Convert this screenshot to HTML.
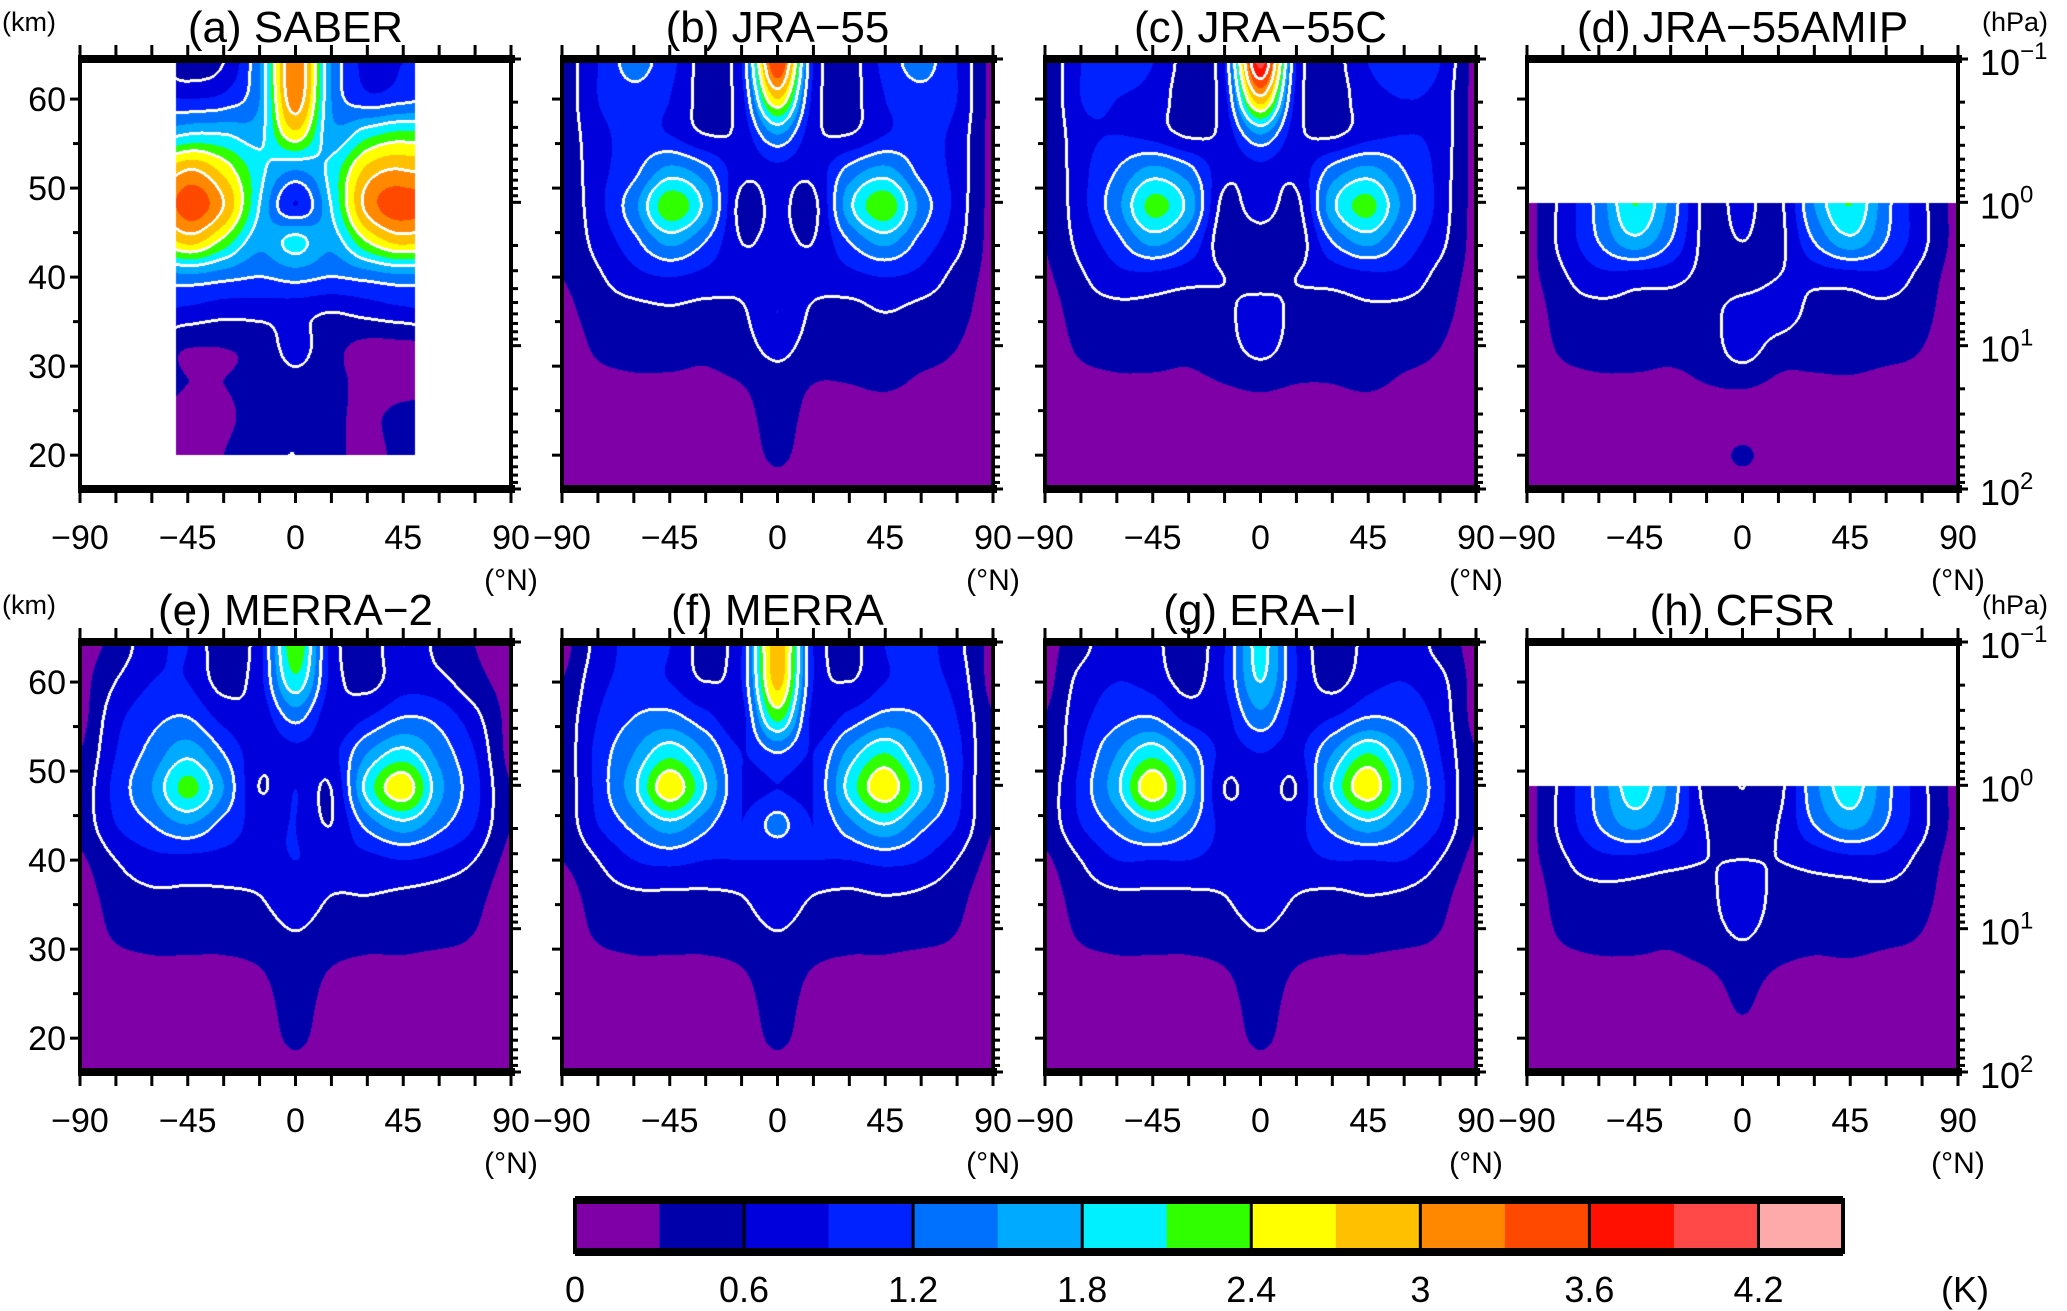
<!DOCTYPE html>
<html><head><meta charset="utf-8">
<style>
html,body{margin:0;padding:0;background:#fff;}
#wrap{position:relative;width:2067px;height:1311px;overflow:hidden;font-family:"Liberation Sans",sans-serif;}
canvas{position:absolute;}
svg{position:absolute;left:0;top:0;}
</style></head>
<body>
<div id="wrap">
<svg id="ov" width="2067" height="1311"></svg>
</div>
<script>
// ---- data ----
const lats = [-90,-75,-60,-45,-30,-15,0,15,30,45,60,75,90];
const kms = [64,60,56,52,48,44,40,36,32,28,24,20,16];
const levels = [0,0.3,0.6,0.9,1.2,1.5,1.8,2.1,2.4,2.7,3.0,3.3,3.6,3.9,4.2];
const cbLabels = ['0','0.6','1.2','1.8','2.4','3','3.6','4.2'];
const titles = ['(a)  SABER','(b)  JRA\u221255','(c)  JRA\u221255C','(d)  JRA\u221255AMIP','(e)  MERRA\u22122','(f)  MERRA','(g)  ERA\u2212I','(h)  CFSR'];
const xTickLabels = ['\u221290','\u221245','0','45','90'];
const xTickVals = [-90,-45,0,45,90];
const kmTickVals = [20,30,40,50,60];
const pTickExp = ['\u22121','0','1','2'];

const fieldA = [
[0,0,0.5,0.4,0.6,1.5,3.3,1.5,0.8,0.9,0.9,0,0],
[0,0,0.9,0.9,1.0,1.5,3.2,1.5,1.0,1.1,1.1,0,0],
[0,0,1.4,1.8,1.8,1.7,2.6,1.6,2.0,2.2,1.9,0,0],
[0,0,2.2,3.0,2.6,1.9,1.5,1.9,2.8,3.0,2.5,0,0],
[0,0,2.5,3.45,3.0,1.8,0.9,1.8,3.1,3.45,2.9,0,0],
[0,0,2.0,2.8,2.3,1.6,1.9,1.6,2.4,2.8,2.3,0,0],
[0,0,1.2,1.4,1.3,1.2,1.3,1.2,1.3,1.4,1.2,0,0],
[0,0,0.8,0.8,0.7,0.7,0.7,0.6,0.7,0.8,0.8,0,0],
[0,0,0.4,0.3,0.3,0.4,0.7,0.4,0.2,0.2,0.2,0,0],
[0,0,0.4,0.3,0.3,0.4,0.5,0.4,0.2,0.2,0.2,0,0],
[0,0,0.2,0.2,0.25,0.4,0.4,0.35,0.25,0.4,0.4,0,0],
[0,0,0.2,0.2,0.3,0.5,0.6,0.4,0.2,0.4,0.4,0,0],
[0,0,0.2,0.2,0.3,0.5,0.6,0.4,0.2,0.4,0.4,0,0]];
const fieldB = [
[0.4,0.9,1.3,1.0,0.5,0.9,3.6,0.9,0.5,1.0,1.3,0.9,0.2],
[0.4,0.9,1.1,0.9,0.5,0.8,2.7,0.8,0.5,0.9,1.1,0.9,0.2],
[0.4,0.8,1.0,0.9,0.6,0.7,1.5,0.7,0.6,0.9,1.0,0.8,0.2],
[0.35,0.8,1.1,1.6,1.3,0.7,0.8,0.7,1.3,1.6,1.1,0.8,0.2],
[0.35,0.8,1.4,2.3,1.7,0.5,0.7,0.5,1.7,2.3,1.4,0.8,0.2],
[0.35,0.7,1.1,1.6,1.2,0.6,0.7,0.6,1.2,1.6,1.1,0.7,0.2],
[0.3,0.55,0.8,0.9,0.8,0.7,0.75,0.7,0.8,0.9,0.8,0.5,0.2],
[0.2,0.45,0.5,0.55,0.5,0.55,0.9,0.55,0.5,0.6,0.5,0.4,0.15],
[0.1,0.35,0.4,0.4,0.35,0.45,0.7,0.45,0.4,0.45,0.4,0.3,0.1],
[0.1,0.2,0.25,0.25,0.25,0.3,0.45,0.3,0.3,0.35,0.25,0.2,0.1],
[0.1,0.1,0.1,0.1,0.1,0.2,0.4,0.2,0.1,0.1,0.1,0.1,0.1],
[0.1,0.1,0.1,0.1,0.1,0.15,0.35,0.15,0.1,0.1,0.1,0.1,0.1],
[0.1,0.1,0.1,0.1,0.1,0.1,0.2,0.1,0.1,0.1,0.1,0.1,0.1]];
const fieldC = [
[0.3,0.9,1.0,0.9,0.5,0.9,4.0,0.9,0.5,0.9,1.0,0.9,0.2],
[0.3,0.9,0.9,0.8,0.45,0.8,2.9,0.8,0.45,0.8,0.9,0.8,0.2],
[0.3,0.8,0.9,0.8,0.55,0.7,1.5,0.7,0.55,0.8,0.9,0.8,0.2],
[0.3,0.8,1.2,1.6,1.3,0.7,0.8,0.7,1.3,1.6,1.2,0.8,0.2],
[0.3,0.8,1.4,2.2,1.7,0.5,0.8,0.5,1.7,2.2,1.4,0.8,0.2],
[0.3,0.7,1.1,1.6,1.2,0.4,0.4,0.4,1.2,1.6,1.1,0.7,0.2],
[0.25,0.55,0.8,0.8,0.7,0.6,0.4,0.6,0.7,0.8,0.8,0.5,0.2],
[0.15,0.45,0.5,0.5,0.45,0.5,0.8,0.5,0.5,0.55,0.5,0.4,0.15],
[0.1,0.35,0.4,0.4,0.35,0.45,0.7,0.45,0.4,0.45,0.4,0.3,0.1],
[0.1,0.2,0.25,0.25,0.25,0.3,0.35,0.3,0.3,0.35,0.25,0.2,0.1],
[0.1,0.1,0.1,0.1,0.1,0.15,0.2,0.15,0.1,0.1,0.1,0.1,0.1],
[0.1,0.1,0.1,0.1,0.1,0.1,0.1,0.1,0.1,0.1,0.1,0.1,0.1],
[0.1,0.1,0.1,0.1,0.1,0.1,0.1,0.1,0.1,0.1,0.1,0.1,0.1]];
const fieldD = [
[0.2,0.7,1.3,2.1,1.4,0.5,0.7,0.5,1.5,2.1,1.3,0.7,0.2],
[0.2,0.7,1.3,2.1,1.4,0.5,0.7,0.5,1.5,2.1,1.3,0.7,0.2],
[0.2,0.7,1.3,2.1,1.4,0.5,0.7,0.5,1.5,2.1,1.3,0.7,0.2],
[0.2,0.7,1.3,2.1,1.4,0.5,0.7,0.5,1.5,2.1,1.3,0.7,0.2],
[0.2,0.7,1.3,2.1,1.4,0.5,0.7,0.5,1.5,2.1,1.3,0.7,0.2],
[0.2,0.7,1.2,1.7,1.2,0.5,0.6,0.5,1.2,1.7,1.2,0.7,0.2],
[0.2,0.55,0.8,0.75,0.7,0.5,0.4,0.6,0.7,0.75,0.8,0.5,0.15],
[0.1,0.45,0.5,0.5,0.45,0.45,0.8,0.8,0.5,0.5,0.5,0.4,0.1],
[0.1,0.35,0.4,0.4,0.35,0.4,0.75,0.45,0.4,0.45,0.4,0.3,0.1],
[0.1,0.2,0.25,0.25,0.25,0.3,0.35,0.25,0.25,0.25,0.2,0.2,0.1],
[0.1,0.1,0.1,0.1,0.1,0.1,0.1,0.1,0.1,0.1,0.1,0.1,0.1],
[0.1,0.1,0.1,0.1,0.1,0.1,0.35,0.1,0.1,0.1,0.1,0.1,0.1],
[0.1,0.1,0.1,0.1,0.1,0.1,0.1,0.1,0.1,0.1,0.1,0.1,0.1]];
const fieldE = [
[0.2,0.4,0.8,0.9,0.4,0.8,2.3,0.8,0.4,0.9,0.5,0.3,0.2],
[0.2,0.6,0.9,0.9,0.5,0.8,2.0,0.8,0.5,0.8,0.7,0.4,0.2],
[0.2,0.8,1.1,1.2,0.8,0.7,1.3,0.7,0.9,1.2,1.1,0.7,0.2],
[0.3,0.9,1.3,1.7,1.2,0.7,0.8,0.8,1.5,1.9,1.4,0.9,0.2],
[0.4,1.0,1.5,2.2,1.5,0.6,0.9,0.6,1.9,2.6,1.6,1.0,0.3],
[0.4,0.9,1.2,1.5,1.1,0.8,0.9,0.6,1.3,1.7,1.3,0.9,0.3],
[0.25,0.6,0.8,0.8,0.8,0.8,0.9,0.8,0.8,0.9,0.8,0.6,0.2],
[0.15,0.45,0.55,0.55,0.55,0.6,0.8,0.6,0.6,0.55,0.5,0.4,0.1],
[0.1,0.35,0.4,0.4,0.4,0.45,0.6,0.45,0.4,0.4,0.4,0.3,0.1],
[0.1,0.2,0.25,0.25,0.25,0.3,0.45,0.3,0.25,0.25,0.2,0.2,0.1],
[0.1,0.1,0.1,0.1,0.1,0.2,0.4,0.2,0.1,0.1,0.1,0.1,0.1],
[0.1,0.1,0.1,0.1,0.1,0.15,0.35,0.15,0.1,0.1,0.1,0.1,0.1],
[0.1,0.1,0.1,0.1,0.1,0.1,0.2,0.1,0.1,0.1,0.1,0.1,0.1]];
const fieldF = [
[0.2,0.7,1.0,0.9,0.5,0.9,2.9,0.9,0.5,0.9,1.0,0.7,0.2],
[0.3,0.8,1.0,0.9,0.6,0.9,2.8,0.9,0.6,0.9,1.0,0.8,0.2],
[0.4,0.9,1.2,1.3,1.0,0.8,2.2,0.8,1.0,1.3,1.2,0.9,0.3],
[0.4,1.0,1.5,2.0,1.5,0.9,1.2,0.9,1.6,2.1,1.5,1.0,0.3],
[0.4,1.0,1.7,2.6,1.8,0.9,0.9,0.9,1.9,2.6,1.8,1.0,0.3],
[0.4,0.9,1.3,1.7,1.3,0.9,1.3,0.9,1.4,1.8,1.3,0.9,0.3],
[0.3,0.6,0.9,1.0,0.9,0.9,0.9,0.9,0.9,1.0,0.9,0.6,0.2],
[0.15,0.45,0.55,0.55,0.55,0.6,0.8,0.6,0.55,0.6,0.55,0.4,0.1],
[0.1,0.35,0.4,0.4,0.4,0.45,0.6,0.45,0.4,0.4,0.4,0.3,0.1],
[0.1,0.2,0.25,0.25,0.25,0.3,0.45,0.3,0.25,0.25,0.2,0.2,0.1],
[0.1,0.1,0.1,0.1,0.1,0.2,0.4,0.2,0.1,0.1,0.1,0.1,0.1],
[0.1,0.1,0.1,0.1,0.1,0.15,0.35,0.15,0.1,0.1,0.1,0.1,0.1],
[0.1,0.1,0.1,0.1,0.1,0.1,0.2,0.1,0.1,0.1,0.1,0.1,0.1]];
const fieldG = [
[0.2,0.5,0.8,0.7,0.4,0.9,1.9,0.9,0.4,0.7,0.8,0.5,0.2],
[0.2,0.7,0.9,0.8,0.5,0.9,1.8,0.9,0.5,0.8,0.9,0.7,0.2],
[0.3,0.8,1.1,1.2,0.8,0.8,1.4,0.8,0.9,1.2,1.1,0.8,0.2],
[0.3,0.9,1.5,2.0,1.4,0.8,0.9,0.8,1.5,2.1,1.5,0.9,0.3],
[0.4,1.0,1.7,2.6,1.7,0.6,0.8,0.6,1.8,2.6,1.7,1.0,0.3],
[0.4,0.9,1.3,1.7,1.3,0.8,0.8,0.8,1.3,1.7,1.3,0.9,0.3],
[0.25,0.6,0.9,0.9,0.9,0.8,0.9,0.8,0.9,0.9,0.9,0.6,0.2],
[0.15,0.45,0.55,0.55,0.55,0.6,0.8,0.6,0.55,0.6,0.55,0.4,0.1],
[0.1,0.35,0.4,0.4,0.4,0.45,0.6,0.45,0.4,0.4,0.4,0.3,0.1],
[0.1,0.2,0.25,0.25,0.25,0.3,0.45,0.3,0.25,0.25,0.2,0.2,0.1],
[0.1,0.1,0.1,0.1,0.1,0.2,0.4,0.2,0.1,0.1,0.1,0.1,0.1],
[0.1,0.1,0.1,0.1,0.1,0.15,0.35,0.15,0.1,0.1,0.1,0.1,0.1],
[0.1,0.1,0.1,0.1,0.1,0.1,0.2,0.1,0.1,0.1,0.1,0.1,0.1]];
const fieldH = [
[0.2,0.7,1.3,1.95,1.4,0.5,0.6,0.5,1.4,1.95,1.3,0.7,0.2],
[0.2,0.7,1.3,1.95,1.4,0.5,0.6,0.5,1.4,1.95,1.3,0.7,0.2],
[0.2,0.7,1.3,1.95,1.4,0.5,0.6,0.5,1.4,1.95,1.3,0.7,0.2],
[0.2,0.7,1.3,1.95,1.4,0.5,0.6,0.5,1.4,1.95,1.3,0.7,0.2],
[0.2,0.7,1.3,1.95,1.4,0.5,0.6,0.5,1.4,1.95,1.3,0.7,0.2],
[0.2,0.7,1.2,1.6,1.2,0.6,0.5,0.6,1.2,1.6,1.2,0.7,0.2],
[0.2,0.55,0.8,0.8,0.7,0.6,0.6,0.6,0.7,0.8,0.8,0.5,0.15],
[0.1,0.45,0.5,0.5,0.45,0.5,0.8,0.5,0.5,0.5,0.5,0.4,0.1],
[0.1,0.35,0.4,0.4,0.35,0.45,0.65,0.45,0.4,0.45,0.4,0.3,0.1],
[0.1,0.2,0.25,0.25,0.25,0.3,0.45,0.3,0.25,0.25,0.2,0.2,0.1],
[0.1,0.1,0.1,0.1,0.1,0.1,0.35,0.1,0.1,0.1,0.1,0.1,0.1],
[0.1,0.1,0.1,0.1,0.1,0.1,0.2,0.1,0.1,0.1,0.1,0.1,0.1],
[0.1,0.1,0.1,0.1,0.1,0.1,0.1,0.1,0.1,0.1,0.1,0.1,0.1]];
const fields = [fieldA,fieldB,fieldC,fieldD,fieldE,fieldF,fieldG,fieldH];
// masks: [latMin, latMax, kmMin, kmMax]
const maskA = [-50,50,20,64.5];
const maskFull = [-90,90,16.2,64.5];
const maskLow = [-90,90,16.2,48.3];
const masks = [maskA,maskFull,maskFull,maskLow,maskFull,maskFull,maskFull,maskLow];
const colors = ['#7f00a6','#0000aa','#0000dd','#0022ff','#0070ff','#00aaff','#00f0ff','#30ff00','#ffff00','#ffc000','#ff8800','#ff4800','#ff1000','#ff4848','#ffaaaa'];

// ---- layout ----
const PW=431, PH=430, KM_TOP=64.5, KM_BOT=16.2;
const panelLeft=[80,562,1045,1527], panelTop=[59,642];
const NS='http://www.w3.org/2000/svg';
const ov=document.getElementById('ov');
const wrap=document.getElementById('wrap');
function xOf(px,lat){return px+(lat+90)/180*PW;}
function yOf(py,km){return py+(KM_TOP-km)/(KM_TOP-KM_BOT)*PH;}
function yOfP(py,p){return py+(Math.log10(p)+1)/3*PH;}
function hexRGB(h){return [parseInt(h.substr(1,2),16),parseInt(h.substr(3,2),16),parseInt(h.substr(5,2),16)];}
const rgb=colors.map(hexRGB);
function cr(p0,p1,p2,p3,t){return p1+0.5*t*(p2-p0+t*(2*p0-5*p1+4*p2-p3+t*(3*(p1-p2)+p3-p0)));}
function sample(f,gx,gy){
  const ix=Math.floor(gx), iy=Math.floor(gy), tx=gx-ix, ty=gy-iy;
  const R=f.length-1, C=f[0].length-1;
  const g=(r,c)=>f[Math.max(0,Math.min(R,r))][Math.max(0,Math.min(C,c))];
  const rows=[];
  for(let j=-1;j<=2;j++){rows.push(cr(g(iy+j,ix-1),g(iy+j,ix),g(iy+j,ix+1),g(iy+j,ix+2),tx));}
  return Math.max(0,cr(rows[0],rows[1],rows[2],rows[3],ty));
}
function mk(tag,attrs,parent){const e=document.createElementNS(NS,tag);for(const k in attrs)e.setAttribute(k,attrs[k]);(parent||ov).appendChild(e);return e;}
function txt(x,y,s,size,anchor,parent){const t=mk('text',{x:x,y:y,'font-size':size,'text-anchor':anchor||'middle','font-family':'Liberation Sans, sans-serif',fill:'#000'},parent);t.textContent=s;return t;}

for(let p=0;p<8;p++){
  const px=panelLeft[p%4], py=panelTop[Math.floor(p/4)];
  const cv=document.createElement('canvas');
  cv.width=PW; cv.height=PH; cv.style.left=px+'px'; cv.style.top=py+'px';
  
  
  wrap.insertBefore(cv,ov);
  const ctx=cv.getContext('2d');
  const img=ctx.createImageData(PW,PH);
  const f=fields[p], m=masks[p];
  const vals=new Float32Array(PW*PH), inside=new Uint8Array(PW*PH);
  for(let y=0;y<PH;y++){
    const km=KM_TOP-(y+0.5)/PH*(KM_TOP-KM_BOT);
    const gy=(kms[0]-km)/(kms[0]-kms[1]);
    for(let x=0;x<PW;x++){
      const lat=-90+(x+0.5)/PW*180;
      const i=y*PW+x;
      if(lat<m[0]||lat>m[1]||km<m[2]||km>m[3]){inside[i]=0;continue;}
      inside[i]=1;
      vals[i]=sample(f,(lat-lats[0])/(lats[1]-lats[0]),Math.max(0,Math.min(kms.length-1,gy)));
    }
  }
  for(let y=0;y<PH;y++)for(let x=0;x<PW;x++){
    const i=y*PW+x;let c=[255,255,255];
    if(inside[i]){
      let k=0;for(let l=0;l<levels.length;l++){if(vals[i]>=levels[l])k=l;}
      c=rgb[k];
    }
    img.data[i*4]=c[0];img.data[i*4+1]=c[1];img.data[i*4+2]=c[2];img.data[i*4+3]=255;
  }
  const lv=i=>Math.floor(vals[i]/0.6);
  const marks=[];
  for(let y=1;y<PH-2;y++)for(let x=1;x<PW-2;x++){
    const i=y*PW+x;if(!inside[i])continue;
    if(inside[i+1]&&lv(i)!==lv(i+1)){marks.push(i-1,i,i+1);}
    if(inside[i+PW]&&lv(i)!==lv(i+PW)){marks.push(i-PW,i,i+PW);}
  }
  marks.forEach(i=>{if(!inside[i])return;img.data[i*4]=255;img.data[i*4+1]=255;img.data[i*4+2]=255;});
  ctx.putImageData(img,0,0);

  // axes overlay
  const g=mk('g',{});
  
  
  const fr=mk('rect',{x:px,y:py,width:PW,height:PH,fill:'none',stroke:'#000','stroke-width':4},g);
  
  
  mk('line',{x1:px-2,x2:px+PW+4,y1:py,y2:py,stroke:'#000','stroke-width':8},g);
  mk('line',{x1:px-2,x2:px+PW+4,y1:py+PH,y2:py+PH,stroke:'#000','stroke-width':8},g);
  for(let lat=-90;lat<=90;lat+=15){
    const x=xOf(px,lat);
    mk('line',{x1:x,x2:x,y1:py+PH,y2:py+PH+14,stroke:'#000','stroke-width':3},g);
    mk('line',{x1:x,x2:x,y1:py,y2:py-14,stroke:'#000','stroke-width':3},g);
  }
  for(let km=20;km<=60;km+=5){
    const y=yOf(py,km);
    mk('line',{x1:px,x2:px-(km%10===0?10:7),y1:y,y2:y,stroke:'#000','stroke-width':3},g);
  }
  for(let e=-1;e<=2;e++)for(let k=1;k<=9;k++){
    const pv=k*Math.pow(10,e); if(pv>100)continue;
    const y=yOfP(py,pv);
    mk('line',{x1:px+PW,x2:px+PW+(k===1?10:7),y1:y,y2:y,stroke:'#000','stroke-width':3},g);
  }
  const tt=txt(px+PW/2,py-17,titles[p],44,'middle',g);
  
  
  xTickVals.forEach((v,j)=>{
    const t=txt(xOf(px,v),py+PH+60,xTickLabels[j],34,'middle',g);
    
    
  });
  const xu=txt(px+PW,py+PH+101,'(\u00B0N)',30,'middle',g);
  
  
  if(p%4===0){
    kmTickVals.forEach(v=>{
      const t=txt(px-14,yOf(py,v)+12,String(v),34,'end',g);
      
      
    });
    const ku=txt(2,py-28,'(km)',27,'start',g);
    
    
  }
  if(p%4===3){
    pTickExp.forEach((e,j)=>{
      const y=yOfP(py,Math.pow(10,j-1));
      const t=mk('text',{x:px+PW+22,y:y+16,'font-size':36,'font-family':'Liberation Sans, sans-serif'},g);
      
      
      t.textContent='10';
      const s=mk('tspan',{dy:-16,'font-size':24},t);
      s.textContent=e;
    });
    const pu=txt(2048,py-28,'(hPa)',27,'end',g);
    
    
  }
}
// colorbar
const cbL=575, cbT=1200, cbW=1268, cbH=52, cw=cbW/colors.length;
const cb=mk('g',{});


colors.forEach((c,i)=>{
  const r=mk('rect',{x:cbL+i*cw,y:cbT,width:cw+0.5,height:cbH,fill:c},cb);
  
  
});
for(let i=2;i<colors.length;i+=2){mk('line',{x1:cbL+i*cw,x2:cbL+i*cw,y1:cbT,y2:cbT+cbH,stroke:'#000','stroke-width':3},cb);}
mk('rect',{x:cbL,y:cbT,width:cbW,height:cbH,fill:'none',stroke:'#000','stroke-width':4},cb);
mk('line',{x1:cbL,x2:cbL+cbW,y1:cbT,y2:cbT,stroke:'#000','stroke-width':8},cb);
mk('line',{x1:cbL,x2:cbL+cbW,y1:cbT+cbH,y2:cbT+cbH,stroke:'#000','stroke-width':8},cb);
cbLabels.forEach((s,i)=>{
  const t=txt(cbL+i*2*cw,1302,s,36,'middle',cb);
  
  
});
const ku2=txt(1965,1302,'(K)',36,'middle',cb);


</script>
</body></html>
